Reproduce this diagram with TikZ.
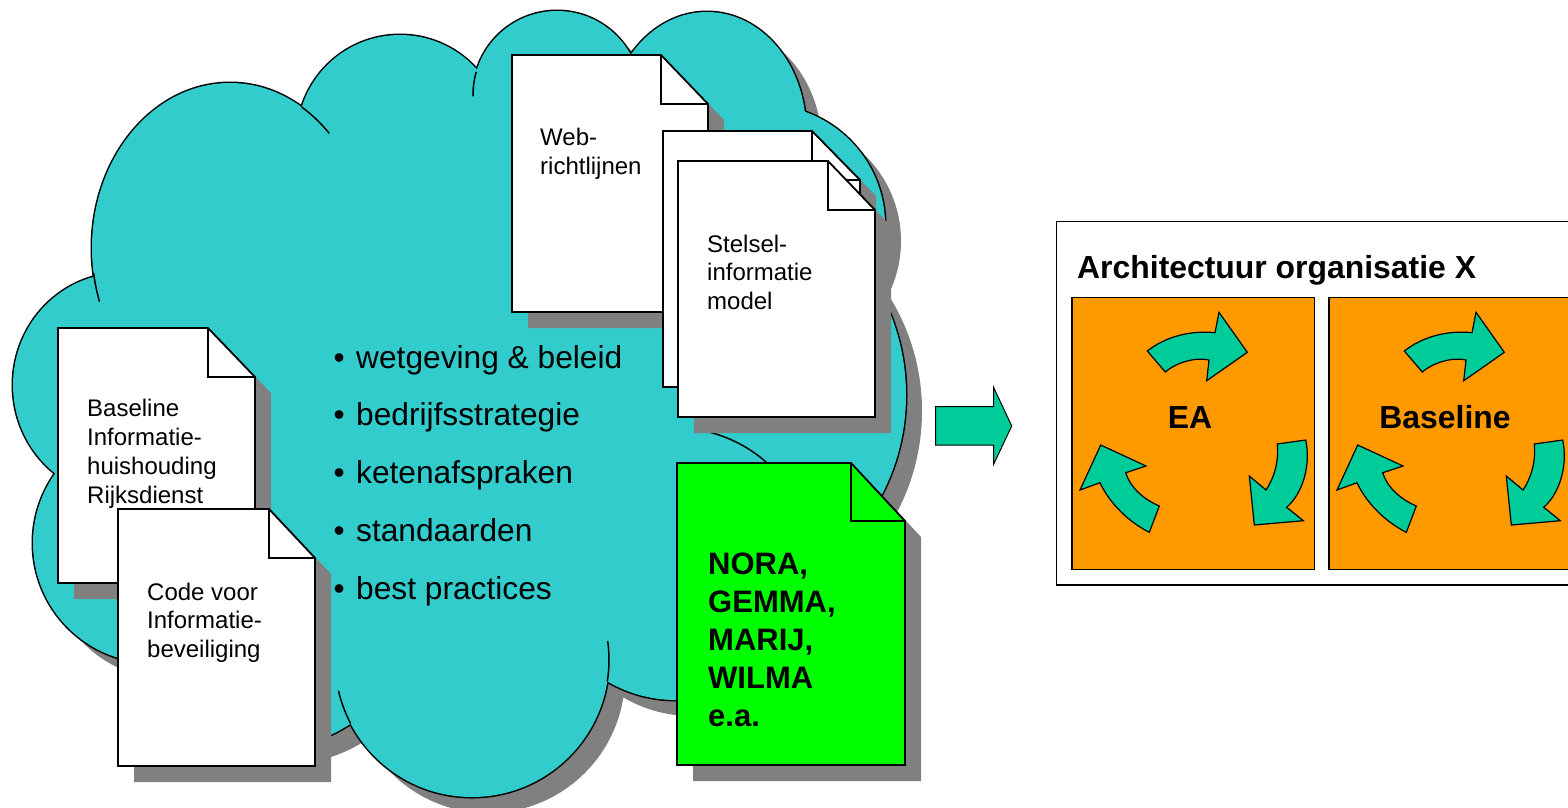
\documentclass[tikz,border=0pt]{standalone}
\usepackage{fontspec}
\setmainfont{Liberation Sans}
\definecolor{cloudteal}{HTML}{33CCCC}
\definecolor{shadowgrey}{HTML}{808080}
\definecolor{docgreen}{HTML}{00FF00}
\definecolor{boxorange}{HTML}{FF9900}
\definecolor{arrowgreen}{HTML}{00CC99}
\newcommand\cloudlobes[1]{%
 #1 (230,248) ellipse[x radius=138,y radius=165];
 #1 (400,138) circle[radius=103];
 #1 (557,95) circle[radius=84];
 #1 (707,130) ellipse[x radius=99,y radius=118];
 #1 (765,225) circle[radius=120];
 #1 (689,395) circle[radius=217];
 #1 (676,564) circle[radius=136];
 #1 (472,660) circle[radius=137];
 #1 (270,602) circle[radius=146];
 #1 (153,543) circle[radius=120];
 #1 (122,385) ellipse[x radius=109,y radius=112];
}
\newcommand\cloudcore[1]{%
 #1 (230,248) -- (400,138) -- (557,95) -- (707,130) -- (765,225) -- (689,395) -- (676,564) -- (472,660) -- (270,602) -- (153,543) -- (122,385) -- cycle;
}
% x y w h foldw foldh fill
\newcommand\docpage[7]{%
 \fill[shadowgrey] ({#1+16},{#2+16}) -- ({#1+#3-#5+16},{#2+16}) -- ({#1+#3+16},{#2+#6+16}) -- ({#1+#3+16},{#2+#4+16}) -- ({#1+16},{#2+#4+16}) -- cycle;
 \draw[docline,fill=#7] (#1,#2) -- ({#1+#3-#5},#2) -- ({#1+#3},{#2+#6}) -- ({#1+#3},{#2+#4}) -- (#1,{#2+#4}) -- cycle;
 \draw[docline] ({#1+#3-#5},#2) -- ({#1+#3-#5},{#2+#6}) -- ({#1+#3},{#2+#6});
}
\newcommand\cyclearrows{%
 \draw[cycarrow] (1147.3,351) .. controls (1165,337) and (1190,330) .. (1215,332.7) -- (1219,312.3) -- (1247.3,352.3) -- (1206.7,380.7) -- (1209,360) .. controls (1196,357) and (1177,362) .. (1165.3,372) -- cycle;
 \draw[cycarrow] (1277.3,444) -- (1305.7,440) .. controls (1311,465) and (1303,493) .. (1286.7,507.3) -- (1303.3,520.7) -- (1254.3,525) -- (1249.3,476) -- (1266,490) .. controls (1274,478) and (1279,462) .. (1277.3,444) -- cycle;
 \draw[cycarrow] (1159.3,506) -- (1149.3,532.3) .. controls (1125,520) and (1108,500) .. (1100,482.7) -- (1080,490) -- (1100.7,445) -- (1146,466) -- (1125.7,472.7) .. controls (1130,487) and (1143,499) .. (1159.3,506) -- cycle;
}
\begin{document}
\begin{tikzpicture}[x=1pt,y=-1pt,
  cloudedge/.style={draw=black,line width=3pt},
  cloudline/.style={draw=black,line width=1.5pt},
  docline/.style={draw=black,line width=1.8pt},
  cycarrow/.style={draw=black,fill=arrowgreen,line width=1.2pt,line join=miter},
  doctext/.style={anchor=base west,inner sep=0pt,font=\fontsize{24}{28.8}\selectfont},
  greentext/.style={anchor=base west,inner sep=0pt,font=\fontsize{31}{38}\selectfont\bfseries},
  bullettext/.style={anchor=base west,inner sep=0pt,font=\fontsize{31.7}{57.75}\selectfont},
  boldlabel/.style={inner sep=0pt,font=\fontsize{31.9}{38}\selectfont\bfseries}]
\useasboundingbox (0,0) rectangle (1568,807);
\clip (0,0) rectangle (1568,807);
% cloud shadow
\begin{scope}[shift={(16,16)}]
 \cloudlobes{\fill[shadowgrey]}
 \cloudcore{\fill[shadowgrey]}
\end{scope}
% cloud outline and fill
\cloudlobes{\draw[cloudedge]}
\cloudlobes{\fill[cloudteal]}
\cloudcore{\fill[cloudteal]}
% inner arc stubs
\draw[cloudline] (230,248) ++(171.3:138 and 165) arc[start angle=171.3,end angle=161,x radius=138,y radius=165];
\draw[cloudline] (230,248) ++(-58.7:138 and 165) arc[start angle=-58.7,end angle=-44,x radius=138,y radius=165];
\draw[cloudline] (557,95) ++(196:84) arc[start angle=196,end angle=179,radius=84];
\draw[cloudline] (472,660) ++(9:137) arc[start angle=9,end angle=-8,radius=137];
\draw[cloudline] (472,660) ++(152.4:137) arc[start angle=152.4,end angle=167,radius=137];
\draw[cloudline] (676,564) ++(-80:136) arc[start angle=-80,end angle=-45,radius=136];
% documents
\docpage{512}{55}{196}{257}{47}{49}{white}
\node[doctext] (web) at (540,145.7) {\vtop{\hbox{Web-}\hbox{richtlijnen}}};
\docpage{663}{131}{197}{256}{48}{49}{white}
\docpage{678}{161}{197}{256}{47}{49}{white}
\node[doctext] (stelsel) at (707,252) {\vtop{\hbox{Stelsel-}\hbox{informatie}\hbox{model}}};
\docpage{58}{328}{197}{255}{47}{49}{white}
\node[doctext] (bir) at (87,416.7) {\vtop{\hbox{Baseline}\hbox{Informatie-}\hbox{huishouding}\hbox{Rijksdienst}}};
\docpage{118}{509}{197}{257}{46}{49}{white}
\node[doctext] (code) at (147,600) {\vtop{\hbox{Code voor}\hbox{Informatie-}\hbox{beveiliging}}};
\docpage{677}{463}{228}{302}{54}{58}{docgreen}
\node[greentext] (nora) at (708,574) {\vtop{\hbox{NORA,}\hbox{GEMMA,}\hbox{MARIJ,}\hbox{WILMA}\hbox{e.a.}}};
% bullet list
\node[bullettext] (bullets) at (333.4,368) {\vtop{%
 \hbox{\makebox[22.6pt][l]{•}wetgeving \& beleid}
 \hbox{\makebox[22.6pt][l]{•}bedrijfsstrategie}
 \hbox{\makebox[22.6pt][l]{•}ketenafspraken}
 \hbox{\makebox[22.6pt][l]{•}standaarden}
 \hbox{\makebox[22.6pt][l]{•}best practices}}};
% big arrow
\draw[draw=black,fill=arrowgreen,line width=1pt] (935.7,406.7) -- (993.6,406.7) -- (993.6,387.3) -- (1011.7,426) -- (993.6,464.3) -- (993.6,445) -- (935.7,445) -- cycle;
% architecture box
\draw[line width=1.5pt,fill=white] (1056.4,221.7) rectangle (1620,585);
\node[boldlabel,anchor=base west] (title) at (1077,278.3) {Architectuur organisatie X};
\draw[line width=1.2pt,fill=boxorange] (1072,297.3) rectangle (1314.6,569.3);
\draw[line width=1.2pt,fill=boxorange] (1329,297.3) rectangle (1620,569.3);
\node[boldlabel,anchor=base] (ea) at (1190,428.3) {EA};
\node[boldlabel,anchor=base] (bl) at (1445,428.3) {Baseline};
\cyclearrows
\begin{scope}[xshift=257pt]
\cyclearrows
\end{scope}
\end{tikzpicture}
\end{document}
